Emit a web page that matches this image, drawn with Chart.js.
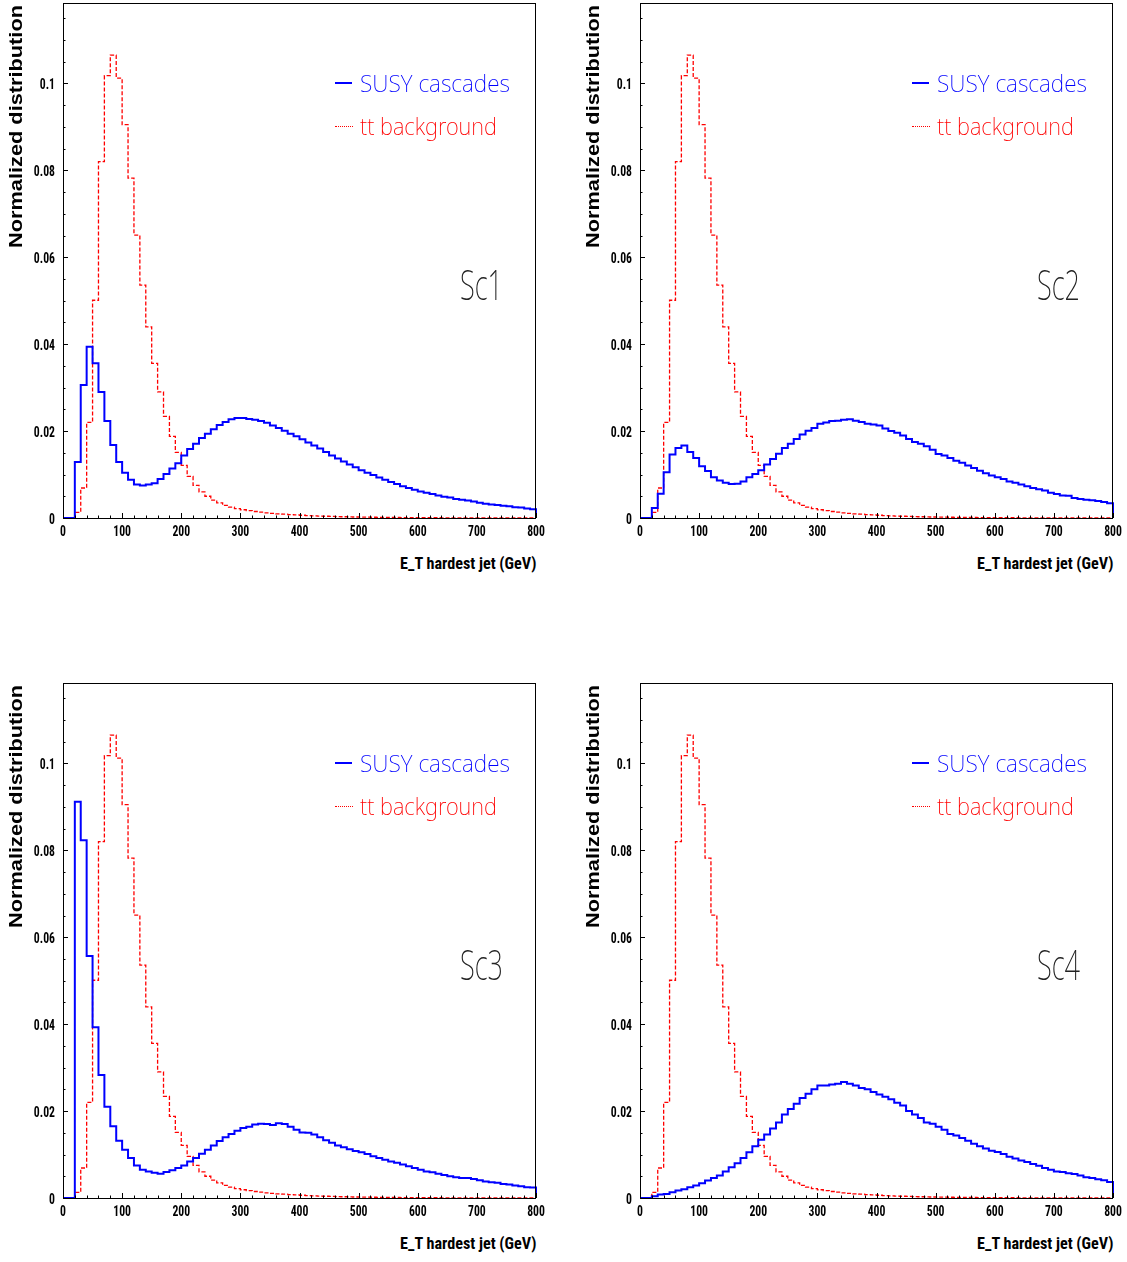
<!DOCTYPE html>
<html>
<head>
<meta charset="utf-8">
<script src="https://cdn.jsdelivr.net/npm/chart.js@4.4.1/dist/chart.umd.min.js"></script>
<style>
  body { margin: 0; background: #fff; width: 1127px; height: 1262px; position: relative; overflow: hidden; }
  .panel { position: absolute; width: 563px; height: 600px; }
  .panel canvas { position: absolute; left: 0; top: 0; }
  .txt { position: absolute; white-space: nowrap; transform-origin: 0 0; }
  .sample { position: absolute; }
</style>
</head>
<body>
<div class="panel" id="p1"><canvas id="c1" width="563" height="545"></canvas></div>
<div class="panel" id="p2" style="left:577px"><canvas id="c2" width="563" height="545"></canvas></div>
<div class="panel" id="p3" style="top:680px"><canvas id="c3" width="563" height="545"></canvas></div>
<div class="panel" id="p4" style="left:577px;top:680px"><canvas id="c4" width="563" height="545"></canvas></div>
<script>
// bin low edges in GeV (10 GeV bins), last entry closes the histogram
const binEdges = [
  0, 10, 20, 30, 40, 50, 60, 70, 80, 90,
  100, 110, 120, 130, 140, 150, 160, 170, 180, 190,
  200, 210, 220, 230, 240, 250, 260, 270, 280, 290,
  300, 310, 320, 330, 340, 350, 360, 370, 380, 390,
  400, 410, 420, 430, 440, 450, 460, 470, 480, 490,
  500, 510, 520, 530, 540, 550, 560, 570, 580, 590,
  600, 610, 620, 630, 640, 650, 660, 670, 680, 690,
  700, 710, 720, 730, 740, 750, 760, 770, 780, 790,
  800
];

const xTicks = [0, 100, 200, 300, 400, 500, 600, 700, 800];
const xTickLabels = ['0', '100', '200', '300', '400', '500', '600', '700', '800'];
const yTicks = [0, 0.02, 0.04, 0.06, 0.08, 0.1];
const yTickLabels = ['0', '0.02', '0.04', '0.06', '0.08', '0.1'];

// tt background, same in every panel
const ttBackground = [
  0, 0, 0.0013, 0.0069, 0.0220, 0.0501, 0.0820, 0.1018, 0.1065, 0.1012,
  0.0905, 0.0782, 0.0651, 0.0536, 0.0440, 0.0356, 0.0290, 0.0234, 0.0188, 0.0151,
  0.0121, 0.0096, 0.0075, 0.0060, 0.0050, 0.0041, 0.0035, 0.0029, 0.0025, 0.00215,
  0.0019, 0.0017, 0.0015, 0.00135, 0.0012, 0.00108, 0.00097, 0.00087, 0.00078, 0.0007,
  0.00063, 0.00056, 0.0005, 0.00045, 0.0004, 0.00036, 0.00032, 0.00029, 0.00026, 0.00023,
  0.00021, 0.00019, 0.00017, 0.00015, 0.00014, 0.00012, 0.00011, 0.0001, 0.00009, 0.00008,
  0.000075, 0.00007, 0.00006, 0.000055, 0.00005, 0.000045, 0.00004, 0.00004, 0.000035, 0.00003,
  0.00003, 0.00003, 0.000025, 0.000025, 0.00002, 0.00002, 0.00002, 0.00002, 0.000015, 0.000015
];

const sc1Susy = [
  0, 0, 0.0129, 0.0306, 0.0394, 0.0356, 0.0290, 0.0223, 0.0168, 0.0129,
  0.0104, 0.0088, 0.0077, 0.0075, 0.0077, 0.0080, 0.0090, 0.0101, 0.0114, 0.0126,
  0.0144, 0.0159, 0.0171, 0.0184, 0.0194, 0.0204, 0.0214, 0.0221, 0.0227, 0.0230,
  0.0230, 0.0228, 0.0226, 0.0223, 0.0219, 0.0213, 0.0207, 0.0201, 0.0194, 0.0188,
  0.0181, 0.0174, 0.0167, 0.0160, 0.0152, 0.0144, 0.0137, 0.0130, 0.0123, 0.0117,
  0.0110, 0.0104, 0.0099, 0.0093, 0.0088, 0.0083, 0.0078, 0.0073, 0.0069, 0.0065,
  0.0061, 0.0058, 0.0055, 0.0052, 0.0049, 0.0047, 0.0044, 0.0042, 0.0040, 0.0038,
  0.0035, 0.0033, 0.0031, 0.0030, 0.0028, 0.0027, 0.0025, 0.0024, 0.0022, 0.0020
];

const sc2Susy = [
  0, 0, 0.0023, 0.0056, 0.0105, 0.0146, 0.0161, 0.0167, 0.0152, 0.0138,
  0.0119, 0.0108, 0.0094, 0.0086, 0.0081, 0.0078, 0.0079, 0.0084, 0.0094, 0.0101,
  0.0110, 0.0123, 0.0136, 0.0148, 0.0161, 0.0171, 0.0182, 0.0192, 0.0201, 0.0207,
  0.0217, 0.0220, 0.0223, 0.0224, 0.0226, 0.0227, 0.0224, 0.0221, 0.0217, 0.0215,
  0.0213, 0.0206, 0.0200, 0.0196, 0.0190, 0.0182, 0.0175, 0.0171, 0.0165, 0.0157,
  0.0147, 0.0144, 0.0138, 0.0132, 0.0127, 0.0121, 0.0115, 0.0109, 0.0103, 0.0098,
  0.0094, 0.0090, 0.0084, 0.0081, 0.0077, 0.0073, 0.0069, 0.0066, 0.0063, 0.0058,
  0.0055, 0.0052, 0.0051, 0.0046, 0.0044, 0.0042, 0.0041, 0.0039, 0.0037, 0.0034
];

const sc3Susy = [
  0, 0, 0.0912, 0.0823, 0.0557, 0.0393, 0.0283, 0.0210, 0.0165, 0.0132,
  0.0111, 0.0092, 0.0075, 0.0065, 0.0061, 0.0058, 0.0056, 0.0060, 0.0064, 0.0069,
  0.0075, 0.0084, 0.0092, 0.0102, 0.0111, 0.0121, 0.0131, 0.0140, 0.0147, 0.0155,
  0.0161, 0.0164, 0.0169, 0.0171, 0.0170, 0.0168, 0.0172, 0.0170, 0.0164, 0.0157,
  0.0151, 0.0150, 0.0146, 0.0140, 0.0133, 0.0127, 0.0121, 0.0117, 0.0112, 0.0108,
  0.0105, 0.0101, 0.0096, 0.0092, 0.0088, 0.0084, 0.0081, 0.0077, 0.0073, 0.0069,
  0.0065, 0.0061, 0.0059, 0.0056, 0.0053, 0.0050, 0.0048, 0.0046, 0.0046, 0.0044,
  0.0041, 0.0038, 0.0036, 0.0035, 0.0032, 0.0031, 0.0029, 0.0027, 0.0025, 0.0024
];

const sc4Susy = [
  0, 0, 0.0004, 0.0008, 0.0009, 0.0013, 0.0017, 0.0020, 0.0025, 0.0029,
  0.0034, 0.0040, 0.0046, 0.0052, 0.0061, 0.0071, 0.0080, 0.0092, 0.0105, 0.0119,
  0.0134, 0.0146, 0.0160, 0.0174, 0.0192, 0.0205, 0.0217, 0.0230, 0.0240, 0.0250,
  0.0259, 0.0259, 0.0261, 0.0263, 0.0267, 0.0263, 0.0259, 0.0253, 0.0250, 0.0244,
  0.0238, 0.0233, 0.0227, 0.0219, 0.0213, 0.0200, 0.0192, 0.0184, 0.0174, 0.0171,
  0.0164, 0.0157, 0.0147, 0.0144, 0.0138, 0.0132, 0.0125, 0.0119, 0.0114, 0.0109,
  0.0106, 0.0101, 0.0095, 0.0091, 0.0086, 0.0083, 0.0078, 0.0074, 0.0069, 0.0065,
  0.0061, 0.0060, 0.0057, 0.0055, 0.0052, 0.0048, 0.0046, 0.0043, 0.0041, 0.0037
];

const panels = [
  { host: 'p1', canvas: 'c1', susy: sc1Susy, tag: 'Sc1' },
  { host: 'p2', canvas: 'c2', susy: sc2Susy, tag: 'Sc2' },
  { host: 'p3', canvas: 'c3', susy: sc3Susy, tag: 'Sc3' },
  { host: 'p4', canvas: 'c4', susy: sc4Susy, tag: 'Sc4' }
];

const labelFont = "bold 15px 'Roboto Condensed', sans-serif";
const labelSquash = 0.78;

// histogram points: value of a bin starts at its low edge, closed back to 0 at 800
const toSteps = (values) => binEdges.map((x, i) => ({ x: x, y: i < values.length ? values[i] : 0 }));

// frame, inward ticks and narrow tick labels, PAW style
const framePlugin = {
  id: 'frame',
  afterDatasetsDraw(chart) {
    const { ctx, chartArea: a, scales: { x, y } } = chart;
    ctx.save();
    ctx.strokeStyle = '#000';
    ctx.lineWidth = 1;
    ctx.strokeRect(Math.round(a.left) + 0.5, Math.round(a.top) + 0.5, Math.round(a.width) - 1, Math.round(a.height));
    ctx.beginPath();
    for (let v = 0; v <= 0.1185; v += 0.005) {
      const py = Math.round(y.getPixelForValue(v)) + 0.5;
      const major = Math.abs(v / 0.02 - Math.round(v / 0.02)) < 1e-6;
      ctx.moveTo(a.left, py);
      ctx.lineTo(a.left + (major ? 5 : 2.5), py);
    }
    for (let v = 0; v <= 800; v += 20) {
      const px = Math.round(x.getPixelForValue(v)) + 0.5;
      const major = v % 100 === 0;
      ctx.moveTo(px, a.bottom);
      ctx.lineTo(px, a.bottom - (major ? 5 : 2.5));
    }
    ctx.stroke();

    ctx.fillStyle = '#000';
    ctx.font = labelFont;
    ctx.textBaseline = 'alphabetic';
    xTicks.forEach((v, i) => {
      const w = ctx.measureText(xTickLabels[i]).width * labelSquash;
      ctx.save();
      ctx.translate(x.getPixelForValue(v) - w / 2, a.bottom + 18);
      ctx.scale(labelSquash, 1);
      ctx.fillText(xTickLabels[i], 0, 0);
      ctx.restore();
    });
    yTicks.forEach((v, i) => {
      const w = ctx.measureText(yTickLabels[i]).width * labelSquash;
      ctx.save();
      ctx.translate(a.left - 8 - w, y.getPixelForValue(v) + 5.5);
      ctx.scale(labelSquash, 1);
      ctx.fillText(yTickLabels[i], 0, 0);
      ctx.restore();
    });
    ctx.restore();
  }
};

const measure = document.createElement('canvas').getContext('2d');

function addText(host, str, o) {
  const el = document.createElement('div');
  el.className = 'txt';
  el.textContent = str;
  el.style.font = o.font;
  el.style.color = o.color || '#000';
  measure.font = o.font;
  const m = measure.measureText(str);
  const asc = m.fontBoundingBoxAscent, desc = m.fontBoundingBoxDescent;
  el.style.lineHeight = (asc + desc) + 'px';
  const sx = o.width / m.width;
  if (o.rotate) {
    el.style.left = (o.baseline - asc) + 'px';
    el.style.top = o.y + 'px';
    el.style.transform = 'rotate(-90deg) scaleX(' + sx + ')';
  } else {
    el.style.left = o.x + 'px';
    el.style.top = (o.baseline - asc) + 'px';
    el.style.transform = 'scaleX(' + sx + ')';
  }
  host.appendChild(el);
}

function addSample(host, x, y, w, style) {
  const el = document.createElement('div');
  el.className = 'sample';
  el.style.left = x + 'px';
  el.style.top = y + 'px';
  el.style.width = w + 'px';
  el.style.borderTop = style;
  host.appendChild(el);
}

function drawPanel(p) {
  new Chart(document.getElementById(p.canvas), {
    type: 'line',
    data: {
      datasets: [
        {
          label: 'SUSY cascades',
          data: toSteps(p.susy),
          borderColor: '#0000ff',
          borderWidth: 2,
          stepped: true,
          pointRadius: 0,
          fill: false,
          clip: false
        },
        {
          label: 'tt background',
          data: toSteps(ttBackground),
          borderColor: '#ff0000',
          borderWidth: 1.3,
          borderDash: [4, 2],
          stepped: true,
          pointRadius: 0,
          fill: false,
          clip: false
        }
      ]
    },
    options: {
      responsive: false,
      animation: false,
      layout: { padding: { top: 3, right: 27, left: 0, bottom: 0 } },
      plugins: { legend: { display: false }, tooltip: { enabled: false } },
      scales: {
        x: {
          type: 'linear',
          min: 0,
          max: 800,
          afterFit: (s) => { s.height = 27; s.paddingLeft = 0; s.paddingRight = 0; },
          grid: { display: false },
          border: { display: false },
          ticks: { display: false }
        },
        y: {
          type: 'linear',
          min: 0,
          max: 0.1185,
          afterFit: (s) => { s.width = 63; s.paddingTop = 0; s.paddingBottom = 0; },
          grid: { display: false },
          border: { display: false },
          ticks: { display: false }
        }
      }
    },
    plugins: [framePlugin]
  });

  const host = document.getElementById(p.host);
  const thin = "200 24px 'Noto Sans', sans-serif";
  addSample(host, 335, 82, 17, '2px solid #0000ff');
  addText(host, 'SUSY cascades', { font: thin, color: '#0000ff', x: 360, baseline: 92, width: 150 });
  addSample(host, 335, 126, 18, '1px dotted #ff0000');
  addText(host, 'tt background', { font: thin, color: '#ff0000', x: 360, baseline: 135, width: 137 });
  addText(host, p.tag, { font: "200 42px 'Noto Sans', sans-serif", color: '#222', x: 460, baseline: 300, width: 43 });
  addText(host, 'E_T hardest jet (GeV)', { font: "bold 17px 'Roboto Condensed', sans-serif", x: 400, baseline: 569, width: 137 });
  addText(host, 'Normalized distribution', { font: "bold 18px 'Liberation Sans', sans-serif", rotate: true, baseline: 22, y: 248, width: 243 });
}

panels.forEach(drawPanel);
</script>
</body>
</html>
